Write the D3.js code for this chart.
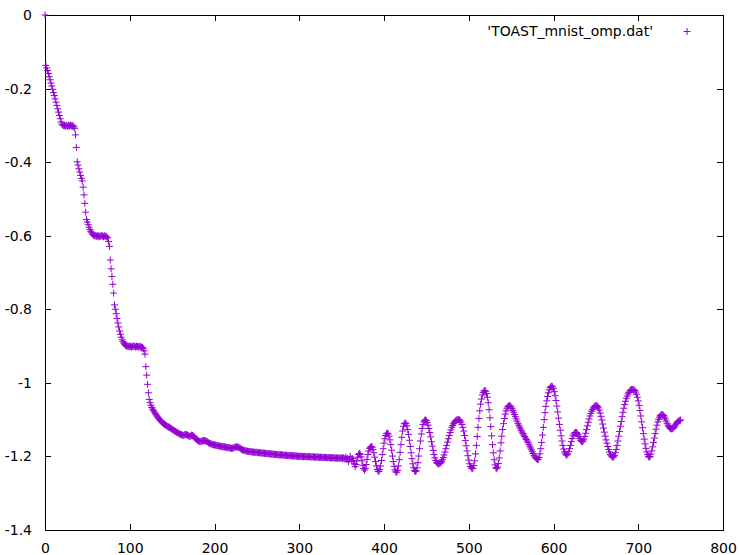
<!DOCTYPE html>
<html>
<head>
<meta charset="utf-8">
<script src="https://cdn.jsdelivr.net/npm/d3@7"></script>
<style>
  html, body { margin: 0; padding: 0; background: #fff; }
  svg { display: block; }
</style>
</head>
<body>
<div id="chart"></div>
<script>
// Series: one y value per iteration, x = start + index
const seriesLabel = "'TOAST_mnist_omp.dat'";

// x = 0 .. 119 : staircase descent
const phaseStairsStart = 0;
const phaseStairs = [
  0, -0.137, -0.144, -0.151, -0.159, -0.168, -0.176, -0.185, -0.193, -0.202,
  -0.211, -0.219, -0.228, -0.237, -0.246, -0.255, -0.264, -0.273, -0.282, -0.291,
  -0.297, -0.299, -0.301, -0.300, -0.302, -0.300, -0.301, -0.303, -0.300, -0.302,
  -0.299, -0.301, -0.303, -0.300, -0.304, -0.308, -0.326, -0.360, -0.399, -0.408,
  -0.418, -0.427, -0.436, -0.444, -0.451, -0.468, -0.489, -0.512, -0.536, -0.556,
  -0.563, -0.570, -0.577, -0.583, -0.588, -0.592, -0.596, -0.598, -0.600, -0.601,
  -0.599, -0.602, -0.600, -0.601, -0.603, -0.600, -0.602, -0.599, -0.601, -0.603,
  -0.600, -0.602, -0.601, -0.604, -0.606, -0.616, -0.629, -0.666, -0.690, -0.711,
  -0.732, -0.756, -0.788, -0.800, -0.812, -0.825, -0.837, -0.848, -0.859, -0.868,
  -0.876, -0.883, -0.888, -0.892, -0.895, -0.898, -0.899, -0.901, -0.900, -0.902,
  -0.900, -0.901, -0.903, -0.900, -0.902, -0.899, -0.901, -0.903, -0.900, -0.902,
  -0.901, -0.903, -0.900, -0.902, -0.904, -0.903, -0.907, -0.913, -0.922, -0.956
];

// x = 120 .. 349 : smooth decay towards -1.2
const phaseDecayStart = 120;
const phaseDecay = [
  -0.979, -1.004, -1.027, -1.045, -1.054, -1.061, -1.067, -1.072, -1.076, -1.079,
  -1.083, -1.087, -1.090, -1.093, -1.096, -1.099, -1.102, -1.104, -1.107, -1.109,
  -1.111, -1.113, -1.114, -1.116, -1.118, -1.119, -1.120, -1.121, -1.123, -1.125,
  -1.126, -1.128, -1.129, -1.131, -1.132, -1.134, -1.135, -1.136, -1.138, -1.139,
  -1.140, -1.141, -1.142, -1.143, -1.142, -1.141, -1.140, -1.141, -1.142, -1.143,
  -1.145, -1.146, -1.144, -1.142, -1.143, -1.145, -1.147, -1.150, -1.152, -1.154,
  -1.156, -1.158, -1.159, -1.160, -1.159, -1.158, -1.158, -1.157, -1.157, -1.158,
  -1.158, -1.159, -1.161, -1.163, -1.164, -1.165, -1.166, -1.167, -1.168, -1.168,
  -1.169, -1.169, -1.170, -1.170, -1.171, -1.171, -1.172, -1.172, -1.173, -1.173,
  -1.174, -1.174, -1.174, -1.175, -1.175, -1.176, -1.176, -1.176, -1.177, -1.177,
  -1.178, -1.178, -1.177, -1.176, -1.175, -1.175, -1.174, -1.174, -1.175, -1.176,
  -1.177, -1.179, -1.181, -1.182, -1.183, -1.184, -1.184, -1.185, -1.185, -1.186,
  -1.186, -1.187, -1.187, -1.187, -1.188, -1.188, -1.188, -1.189, -1.189, -1.188,
  -1.189, -1.190, -1.190, -1.189, -1.190, -1.191, -1.190, -1.191, -1.191, -1.192,
  -1.191, -1.192, -1.192, -1.193, -1.192, -1.193, -1.193, -1.194, -1.193, -1.194,
  -1.194, -1.195, -1.194, -1.195, -1.195, -1.196, -1.195, -1.196, -1.196, -1.195,
  -1.196, -1.197, -1.197, -1.196, -1.197, -1.197, -1.198, -1.197, -1.198, -1.198,
  -1.197, -1.198, -1.199, -1.198, -1.199, -1.199, -1.198, -1.199, -1.200, -1.199,
  -1.200, -1.200, -1.199, -1.200, -1.200, -1.201, -1.200, -1.200, -1.201, -1.200,
  -1.201, -1.201, -1.200, -1.201, -1.202, -1.201, -1.201, -1.202, -1.201, -1.202,
  -1.202, -1.202, -1.201, -1.202, -1.203, -1.202, -1.202, -1.203, -1.202, -1.203,
  -1.203, -1.202, -1.203, -1.204, -1.203, -1.203, -1.204, -1.203, -1.204, -1.204,
  -1.203, -1.204, -1.205, -1.204, -1.204, -1.205, -1.204, -1.205, -1.205, -1.204
];

// x = 350 .. 750 : oscillating tail
const phaseOscStart = 350;
const phaseOsc = [
  -1.204, -1.206, -1.203, -1.207, -1.205, -1.202, -1.208, -1.206, -1.214, -1.208,
  -1.200, -1.205, -1.212, -1.206, -1.212, -1.220, -1.228, -1.222, -1.212, -1.202,
  -1.195, -1.192, -1.194, -1.201, -1.212, -1.224, -1.233, -1.237, -1.233, -1.222,
  -1.208, -1.195, -1.185, -1.178, -1.175, -1.173, -1.175, -1.181, -1.190, -1.202,
  -1.214, -1.226, -1.235, -1.240, -1.241, -1.236, -1.226, -1.211, -1.195, -1.179,
  -1.164, -1.152, -1.143, -1.138, -1.137, -1.139, -1.145, -1.155, -1.168, -1.183,
  -1.199, -1.214, -1.227, -1.237, -1.242, -1.243, -1.238, -1.226, -1.209, -1.189,
  -1.168, -1.148, -1.131, -1.118, -1.111, -1.109, -1.111, -1.117, -1.127, -1.140,
  -1.156, -1.173, -1.190, -1.206, -1.220, -1.231, -1.238, -1.241, -1.239, -1.231,
  -1.217, -1.199, -1.179, -1.158, -1.139, -1.124, -1.113, -1.106, -1.102, -1.101,
  -1.103, -1.108, -1.115, -1.124, -1.135, -1.147, -1.160, -1.172, -1.184, -1.195,
  -1.204, -1.211, -1.216, -1.219, -1.220, -1.220, -1.219, -1.217, -1.214, -1.209,
  -1.203, -1.196, -1.188, -1.179, -1.170, -1.161, -1.152, -1.143, -1.135, -1.128,
  -1.121, -1.116, -1.111, -1.107, -1.104, -1.102, -1.101, -1.100, -1.100, -1.101,
  -1.103, -1.107, -1.113, -1.121, -1.131, -1.143, -1.157, -1.171, -1.185, -1.198,
  -1.210, -1.220, -1.227, -1.231, -1.233, -1.232, -1.225, -1.212, -1.193, -1.170,
  -1.146, -1.121, -1.097, -1.076, -1.058, -1.044, -1.033, -1.026, -1.022, -1.021,
  -1.023, -1.029, -1.039, -1.054, -1.073, -1.095, -1.119, -1.144, -1.168, -1.190,
  -1.209, -1.223, -1.231, -1.233, -1.229, -1.219, -1.204, -1.185, -1.163, -1.145,
  -1.127, -1.111, -1.097, -1.085, -1.076, -1.069, -1.065, -1.063, -1.062, -1.063,
  -1.066, -1.070, -1.075, -1.080, -1.086, -1.092, -1.098, -1.104, -1.110, -1.115,
  -1.120, -1.125, -1.130, -1.134, -1.138, -1.142, -1.146, -1.150, -1.154, -1.158,
  -1.162, -1.167, -1.172, -1.177, -1.182, -1.187, -1.192, -1.197, -1.201, -1.204,
  -1.206, -1.208, -1.208, -1.203, -1.193, -1.179, -1.162, -1.142, -1.121, -1.100,
  -1.081, -1.064, -1.049, -1.037, -1.027, -1.019, -1.013, -1.010, -1.009, -1.011,
  -1.016, -1.024, -1.035, -1.048, -1.063, -1.079, -1.096, -1.113, -1.129, -1.144,
  -1.158, -1.170, -1.180, -1.188, -1.193, -1.196, -1.196, -1.193, -1.187, -1.179,
  -1.170, -1.160, -1.151, -1.144, -1.139, -1.136, -1.135, -1.135, -1.137, -1.141,
  -1.146, -1.151, -1.156, -1.159, -1.160, -1.158, -1.153, -1.146, -1.137, -1.127,
  -1.117, -1.107, -1.098, -1.090, -1.083, -1.077, -1.072, -1.068, -1.065, -1.063,
  -1.062, -1.062, -1.064, -1.068, -1.074, -1.082, -1.091, -1.101, -1.112, -1.123,
  -1.134, -1.145, -1.155, -1.164, -1.173, -1.181, -1.188, -1.194, -1.198, -1.201,
  -1.202, -1.201, -1.197, -1.190, -1.181, -1.170, -1.158, -1.145, -1.132, -1.118,
  -1.105, -1.092, -1.080, -1.069, -1.059, -1.050, -1.042, -1.036, -1.030, -1.026,
  -1.022, -1.020, -1.018, -1.018, -1.018, -1.019, -1.021, -1.025, -1.031, -1.039,
  -1.049, -1.061, -1.075, -1.090, -1.106, -1.122, -1.138, -1.153, -1.166, -1.178,
  -1.188, -1.195, -1.200, -1.202, -1.200, -1.194, -1.185, -1.174, -1.162, -1.150,
  -1.138, -1.126, -1.115, -1.106, -1.099, -1.093, -1.089, -1.087, -1.086, -1.087,
  -1.089, -1.093, -1.098, -1.104, -1.110, -1.115, -1.119, -1.122, -1.124, -1.125,
  -1.125, -1.124, -1.121, -1.118, -1.114, -1.110, -1.107, -1.105, -1.103, -1.102,
  -1.101
];

// Axis ticks as printed by gnuplot
const xTicks = [0, 100, 200, 300, 400, 500, 600, 700, 800];
const yTicks = [0, -0.2, -0.4, -0.6, -0.8, -1, -1.2, -1.4];

// Build points from the phases
function toPoints(start, ys) {
    return ys.map((y, i) => ({ x: start + i, y: y }));
}
const points = [].concat(
    toPoints(phaseStairsStart, phaseStairs),
    toPoints(phaseDecayStart, phaseDecay),
    toPoints(phaseOscStart, phaseOsc)
);

const width = 739;
const height = 555;
const margin = { top: 15, right: 16, bottom: 25, left: 45 };
const color = '#9400d3';
const font = '"DejaVu Sans", sans-serif';
const fontSize = 14;
const tickLen = 6;
const plusHalf = 3.5;

// gnuplot prints plain hyphen minus signs
const fmtTick = d => String(d);

const svg = d3.select('#chart')
    .append('svg')
    .attr('width', width)
    .attr('height', height);

const x = d3.scaleLinear()
    .domain([0, 800])
    .range([margin.left, width - margin.right]);

const y = d3.scaleLinear()
    .domain([-1.4, 0])
    .range([height - margin.bottom, margin.top]);

// Bottom axis (ticks inward) and mirrored top ticks
const xAxis = d3.axisBottom(x)
    .tickValues(xTicks)
    .tickFormat(fmtTick)
    .tickSizeInner(-tickLen)
    .tickSizeOuter(0)
    .tickPadding(13);

svg.append('g')
    .attr('class', 'x-axis')
    .attr('transform', `translate(0,${y(-1.4)})`)
    .call(xAxis)
    .call(g => g.select('.domain').remove())
    .call(g => g.selectAll('.tick line').attr('stroke', '#000').attr('shape-rendering', 'crispEdges'))
    .call(g => g.selectAll('.tick text')
        .attr('fill', '#000')
        .style('font-family', font)
        .style('font-size', fontSize + 'px'));

svg.append('g')
    .attr('transform', `translate(0,${y(0)})`)
    .call(d3.axisTop(x).tickValues(xTicks).tickFormat('').tickSizeInner(-tickLen).tickSizeOuter(0))
    .call(g => g.select('.domain').remove())
    .call(g => g.selectAll('.tick line').attr('stroke', '#000').attr('shape-rendering', 'crispEdges'));

// Left axis and mirrored right ticks
const yAxis = d3.axisLeft(y)
    .tickValues(yTicks)
    .tickFormat(fmtTick)
    .tickSizeInner(-tickLen)
    .tickSizeOuter(0)
    .tickPadding(13);

svg.append('g')
    .attr('class', 'y-axis')
    .attr('transform', `translate(${x(0)},0)`)
    .call(yAxis)
    .call(g => g.select('.domain').remove())
    .call(g => g.selectAll('.tick line').attr('stroke', '#000').attr('shape-rendering', 'crispEdges'))
    .call(g => g.selectAll('.tick text')
        .attr('fill', '#000')
        .style('font-family', font)
        .style('font-size', fontSize + 'px'));

svg.append('g')
    .attr('transform', `translate(${x(800)},0)`)
    .call(d3.axisRight(y).tickValues(yTicks).tickFormat('').tickSizeInner(-tickLen).tickSizeOuter(0))
    .call(g => g.select('.domain').remove())
    .call(g => g.selectAll('.tick line').attr('stroke', '#000').attr('shape-rendering', 'crispEdges'));

// Border
svg.append('rect')
    .attr('x', x(0))
    .attr('y', y(0))
    .attr('width', x(800) - x(0))
    .attr('height', y(-1.4) - y(0))
    .attr('fill', 'none')
    .attr('stroke', '#000')
    .attr('stroke-width', 1)
    .attr('shape-rendering', 'crispEdges');

// Points as gnuplot '+' marks
const plusPath = (px, py) =>
    `M${px - plusHalf},${py}H${px + plusHalf}M${px},${py - plusHalf}V${py + plusHalf}`;

svg.append('g')
    .attr('class', 'points')
    .selectAll('path')
    .data(points)
    .enter()
    .append('path')
    .attr('d', d => plusPath(x(d.x), y(d.y)))
    .attr('stroke', color)
    .attr('stroke-width', 1)
    .attr('fill', 'none');

// Key
const key = svg.append('g').attr('class', 'key');
key.append('text')
    .attr('x', 653)
    .attr('y', 36)
    .attr('text-anchor', 'end')
    .style('font-family', font)
    .style('font-size', fontSize + 'px')
    .attr('fill', '#000')
    .text(seriesLabel);
key.append('path')
    .attr('d', plusPath(687, 31.5))
    .attr('stroke', color)
    .attr('stroke-width', 1)
    .attr('fill', 'none');
</script>
</body>
</html>
